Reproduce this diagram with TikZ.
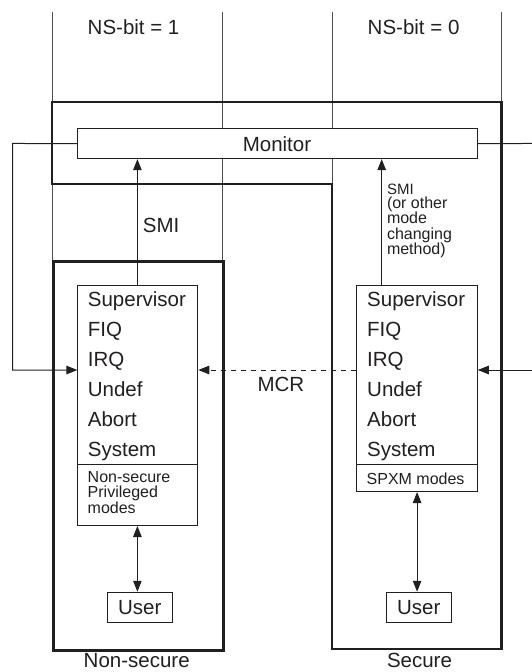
\documentclass[tikz,border=0pt]{standalone}
\usepackage{fontspec}
\setmainfont{Liberation Sans}
\usetikzlibrary{arrows.meta}
\definecolor{ink}{HTML}{231F20}
\begin{document}
\begin{tikzpicture}[x=1pt,y=-1pt,
  every node/.style={text=ink},
  big/.style={font=\fontsize{20.5}{24}\selectfont},
  small/.style={font=\fontsize{16}{15.5}\selectfont, align=left},
  lbl/.style={inner sep=0pt, anchor=base west},
  thinline/.style={draw=ink!80, line width=0.9pt},
  thickline/.style={draw=ink, line width=2.5pt},
  boxline/.style={draw=ink, line width=1pt},
  arr/.style={draw=ink, line width=1pt, -{Triangle[length=11pt,width=8.5pt]}},
  dblarr/.style={draw=ink, line width=1pt, {Triangle[length=11pt,width=8.5pt]}-{Triangle[length=11pt,width=8.5pt]}},
  dasharr/.style={draw=ink, line width=1pt, dash pattern=on 5pt off 5pt, -{Triangle[length=11pt,width=8.5pt]}}
]
\useasboundingbox (0,0) rectangle (532,672);
% top thin vertical lines
\coordinate (v1t) at (52,12);
\coordinate (v2t) at (222,12);
\coordinate (v3t) at (332,12);
\coordinate (v4t) at (501.5,12);
\draw[thinline] (v1t) -- (52,260);
\draw[thinline] (v2t) -- (222,260);
\draw[thinline] (v3t) -- (332,184);
\draw[thinline] (v4t) -- (501.5,102);
% labels on top
\node[big,lbl] (ns1) at (87.5,34) {NS-bit = 1};
\node[big,lbl] (ns0) at (367.5,34) {NS-bit = 0};
% secure / monitor thick outline
\draw[thickline, line join=miter] (52,102) -- (501.5,102) -- (501.5,649) -- (332,649) -- (332,184) -- (52,184) -- cycle;
% non-secure thick box
\node[thickline, minimum width=170pt, minimum height=389pt, anchor=north west, inner sep=0pt] (nsworld) at (52,260) {};
% Monitor
\node[boxline, fill=white, minimum width=399.4pt, minimum height=29.8pt, anchor=north west, inner sep=0pt] (mon) at (77.4,128.3) {};
\node[big,inner sep=0pt,anchor=base] (montxt) at (277,151) {Monitor};
% mode boxes
\node[boxline, fill=white, minimum width=119.9pt, minimum height=240pt, anchor=north west, inner sep=0pt] (nsbox) at (77.4,285) {};
\node[boxline, fill=white, minimum width=120.4pt, minimum height=206pt, anchor=north west, inner sep=0pt] (sbox) at (356.4,285) {};
\draw[draw=ink, line width=1.4pt] (nsbox.west |- 0,464.5) -- (nsbox.east |- 0,464.5);
\draw[draw=ink, line width=1.4pt] (sbox.west |- 0,464.5) -- (sbox.east |- 0,464.5);
% mode texts
\foreach \t [count=\i from 0] in {Supervisor,FIQ,IRQ,Undef,Abort,System}{
  \node[big,lbl] (nsm\i) at (87.7,306.7+30*\i) {\t};
  \node[big,lbl] (sm\i) at (367,306.7+30*\i) {\t};
}
\node[small,lbl,anchor=north west] (nspriv) at (87.5,471) {Non-secure\\Privileged\\modes};
\node[small,lbl] (spxm) at (366.5,484.3) {SPXM modes};
% User boxes
\node[boxline, big, minimum width=65.2pt, minimum height=30.5pt, inner sep=0pt] (nsuser) at (139.8,607.5) {User};
\node[boxline, big, minimum width=65.1pt, minimum height=30.5pt, inner sep=0pt] (suser) at (418.8,607.5) {User};
% SMI arrows
\coordinate (smiL) at (137.4,285);
\coordinate (smiR) at (381.7,285);
\draw[arr] (smiL) -- (smiL |- mon.south);
\draw[arr] (smiR) -- (smiR |- mon.south);
\node[big,lbl] (smil) at (142.7,232) {SMI};
\node[lbl,font=\fontsize{15}{15}\selectfont] (smir) at (386.8,194) {SMI};
\node[small,lbl,anchor=north west] (smirx) at (386.8,196.5) {(or other\\mode\\changing\\method)};
% wrap-around arrows
\draw[arr] (mon.west) -- (12.5,143.45) -- (12.5,370) -- (nsbox.west |- 0,370);
\coordinate (redge1) at (532,143.45);
\coordinate (redge2) at (532,370);
\draw[boxline] (mon.east) -- (redge1);
\draw[arr] (redge2) -- (sbox.east |- 0,370);
% MCR
\draw[dasharr] (sbox.west |- 0,370) -- (nsbox.east |- 0,370);
\node[big,lbl] (mcr) at (257.3,391.7) {MCR};
% user arrows
\draw[dblarr] (nsbox.south -| 137.4,0) -- (nsuser.north -| 137.4,0);
\draw[dblarr] (sbox.south) -- (sbox.south |- suser.north);
% bottom labels
\node[big,inner sep=0pt,anchor=base] (nslbl) at (136.7,667) {Non-secure};
\node[big,inner sep=0pt,anchor=base] (slbl) at (419.5,667) {Secure};
\end{tikzpicture}
\end{document}
